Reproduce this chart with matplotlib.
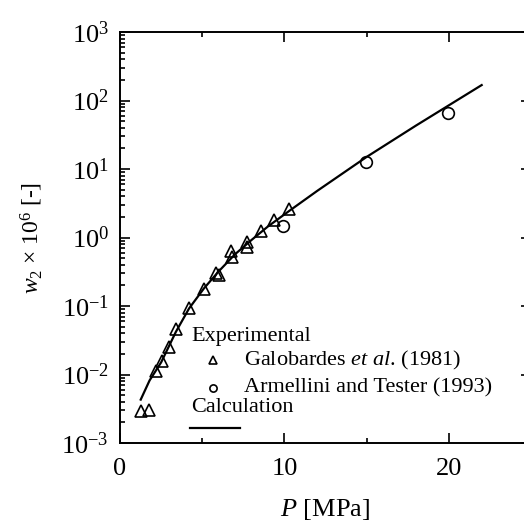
import matplotlib
matplotlib.use('Agg')
import matplotlib.pyplot as plt
from matplotlib.ticker import LogLocator, MultipleLocator, NullFormatter
from matplotlib.lines import Line2D

plt.rcParams['font.family'] = ['Liberation Serif', 'DejaVu Serif']
plt.rcParams['mathtext.fontset'] = 'custom'
plt.rcParams['mathtext.rm'] = 'Liberation Serif'
plt.rcParams['mathtext.it'] = 'Liberation Serif:italic'
plt.rcParams['mathtext.bf'] = 'Liberation Serif:bold'
plt.rcParams['axes.unicode_minus'] = False

# Galobardes et al. (1981)
galo_p = [1.26, 1.76, 2.17, 2.58, 3.0, 3.41, 4.22, 5.11, 5.84, 6.05, 6.73, 6.83, 7.7, 7.72, 8.56, 9.37, 10.3]
galo_w = [0.0029, 0.0030, 0.0114, 0.016, 0.0256, 0.046, 0.093, 0.178, 0.30, 0.28, 0.63, 0.52, 0.85, 0.72, 1.23, 1.80, 2.6]

# Armellini and Tester (1993)
arm_p = [9.94, 14.96, 19.97]
arm_w = [1.49, 12.5, 64.6]

# calculation
calc_p = [1.26, 1.8, 2.5, 3.4, 4.2, 5.1, 6.0, 7.0, 8.0, 9.0, 10.3, 12.0, 15.0, 18.0, 20.0, 22.0]
calc_w = [0.0043, 0.0082, 0.015, 0.042, 0.092, 0.18, 0.32, 0.57, 0.92, 1.45, 2.45, 4.8, 15.0, 43.0, 85.0, 168.0]

fig = plt.figure(figsize=(5.24, 5.23), dpi=100)
ax = fig.add_axes([120 / 524, 1 - 443 / 523, 411 / 524, 411 / 523])

ax.plot(calc_p, calc_w, color='black', lw=1.6)
ax.plot(galo_p, galo_w, ls='none', marker='^', ms=8.6, mfc='none', mec='black', mew=1.2)
ax.plot(arm_p, arm_w, ls='none', marker='o', ms=8.4, mfc='none', mec='black', mew=1.2)

ax.set_yscale('log')
ax.set_xlim(0, 25)
ax.set_ylim(1e-3, 1e3)
ax.xaxis.set_major_locator(MultipleLocator(10))
ax.xaxis.set_minor_locator(MultipleLocator(5))
ax.yaxis.set_major_locator(LogLocator(base=10, numticks=10))
ax.yaxis.set_minor_locator(LogLocator(base=10, subs=range(2, 10), numticks=10))
ax.yaxis.set_minor_formatter(NullFormatter())
ax.tick_params(which='both', direction='in', top=True, right=True, width=1.2, labelsize=19)
ax.tick_params(which='major', length=7.2, pad=8)
ax.tick_params(axis='x', which='major', pad=11)
ax.tick_params(which='minor', length=3.6)
for s in ax.spines.values():
    s.set_linewidth(1.4)

ax.set_xlabel('$P$ [MPa]', fontsize=19, labelpad=12)
ax.set_ylabel(r'$w_2$ $\times$ 10$^6$ [-]', fontsize=17, labelpad=12)

# hand-made legend
fs = 16
def fx(px):
    return px / 524
def fy(py):
    return 1 - py / 523
fig.text(fx(191), fy(336), 'Experimental', fontsize=fs, va='center')
fig.add_artist(Line2D([fx(213)], [fy(360)], marker='^', ms=5.2, mfc='none', mec='black', mew=1.2))
fig.text(fx(244), fy(360), 'Galobardes $et$ $al$. (1981)', fontsize=fs, va='center')
fig.add_artist(Line2D([fx(213)], [fy(388)], marker='o', ms=5.2, mfc='none', mec='black', mew=1.2))
fig.text(fx(244), fy(388), 'Armellini and Tester (1993)', fontsize=fs, va='center')
fig.text(fx(191), fy(408), 'Calculation', fontsize=fs, va='center')
fig.add_artist(Line2D([fx(190), fx(240)], [fy(428), fy(428)], color='black', lw=1.6))

fig.savefig('out.png', dpi=100)
